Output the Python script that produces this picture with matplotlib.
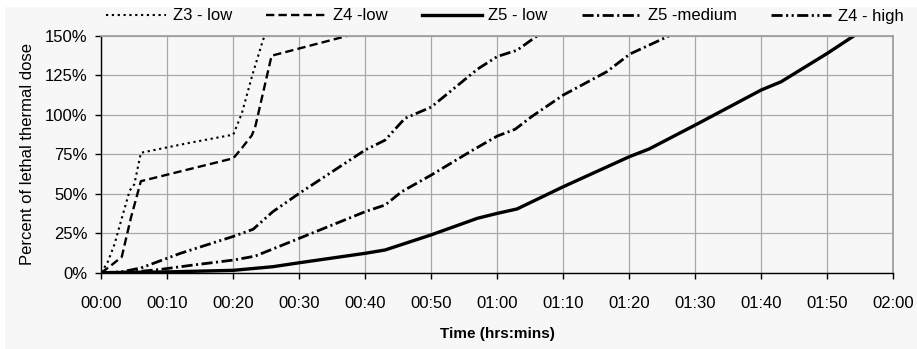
import matplotlib
matplotlib.use("Agg")
import matplotlib.pyplot as plt
from matplotlib.patches import Rectangle

# time in minutes, value in percent of lethal thermal dose
z3_low_t = [0, 1, 2, 3, 4.3, 5, 6, 13, 20, 21.3, 22.8, 24.5, 25]
z3_low_v = [0, 7, 18, 33, 52, 56, 76, 82, 87.5, 101, 124, 147.5, 152]

z4_low_t = [0, 1.3, 3.1, 4.5, 6, 20, 21.3, 22.8, 23.3, 25.8, 37.2]
z4_low_v = [0, 4, 10, 35, 58, 72.5, 79, 87, 92, 137.5, 150]

z5_low_t = [0, 10, 20, 26, 30, 40, 43, 50, 57, 60, 63, 70, 80, 83, 90, 100, 103, 110, 114]
z5_low_v = [0, 0.5, 1.5, 3.8, 6.3, 12.3, 14.4, 24, 34.5, 37.6, 40.4, 54.5, 73.5, 78.4, 93.6, 115.8, 121, 139, 150]

z5_med_t = [0, 5, 9, 14, 20, 23.3, 30, 40, 43, 45.5, 50, 56, 60, 62.7, 65.2, 70, 76.6, 80.1, 86]
z5_med_v = [0, 0.5, 2.1, 4.9, 8, 10.5, 21.8, 38.7, 42.9, 51.3, 61.9, 77, 86.6, 90.9, 98.9, 112.6, 127.4, 138.6, 150]

z4_high_t = [0, 3, 6, 12, 20, 23, 26, 30, 40, 43, 46, 50, 57, 60, 63, 66]
z4_high_v = [0, 0.5, 3, 12.3, 23, 27.5, 38.7, 50.3, 77.8, 84, 97.8, 105, 129, 137, 141, 150]

series_names = ["Z3 - low", "Z4 -low", "Z5 - low", "Z5 -medium", "Z4 - high"]

x_ticks = list(range(0, 121, 10))
x_tick_labels = ["00:00", "00:10", "00:20", "00:30", "00:40", "00:50", "01:00",
                 "01:10", "01:20", "01:30", "01:40", "01:50", "02:00"]
y_ticks = [0, 25, 50, 75, 100, 125, 150]
y_tick_labels = ["0%", "25%", "50%", "75%", "100%", "125%", "150%"]

plt.rcParams["font.family"] = ["Liberation Sans", "DejaVu Sans"]
plt.rcParams["lines.scale_dashes"] = False

bg = "#f7f7f7"
fig = plt.figure(figsize=(9.17, 3.49), dpi=100, facecolor="white")
fig.patches.append(Rectangle((5 / 917, 0), 1, (349 - 7) / 349, transform=fig.transFigure,
                             facecolor=bg, edgecolor="none", zorder=-10))

ax = fig.add_axes([101.3 / 917, (349 - 272.7) / 349, 792 / 917, 236.7 / 349])
ax.set_facecolor(bg)

styles = [
    dict(lw=1.5, ls=(0, (1.6, 2.6))),
    dict(lw=1.7, ls=(0, (6, 3))),
    dict(lw=2.4, ls="-"),
    dict(lw=2.0, ls=(0, (8, 2.5, 1.5, 2.5))),
    dict(lw=2.0, ls=(0, (8, 2.5, 1.5, 2.5, 1.5, 2.5))),
]
data = [(z3_low_t, z3_low_v), (z4_low_t, z4_low_v), (z5_low_t, z5_low_v),
        (z5_med_t, z5_med_v), (z4_high_t, z4_high_v)]

for (t, v), name, st in zip(data, series_names, styles):
    ax.plot(t, v, color="black", label=name, solid_joinstyle="miter", **st)

ax.set_xlim(0, 120)
ax.set_ylim(0, 150)
ax.set_xticks(x_ticks)
ax.set_xticklabels(x_tick_labels, fontsize=12)
ax.set_yticks(y_ticks)
ax.set_yticklabels(y_tick_labels, fontsize=12)
ax.grid(True, color="#a8a8a8", lw=0.9)
ax.set_axisbelow(True)

for s in ["top", "right"]:
    ax.spines[s].set_color("#a0a0a0")
    ax.spines[s].set_linewidth(1.3)
for s in ["left", "bottom"]:
    ax.spines[s].set_color("black")
    ax.spines[s].set_linewidth(1.0)
ax.tick_params(axis="both", direction="out", length=4, width=1, color="black", pad=6)
ax.tick_params(axis="x", pad=13)

ax.set_ylabel("Percent of lethal thermal dose", fontsize=12, labelpad=7)
ax.set_xlabel("Time (hrs:mins)", fontsize=11, fontweight="bold", labelpad=11)

leg = fig.legend(loc="center left", bbox_to_anchor=(106 / 917, (349 - 16) / 349), ncol=5,
                 frameon=False, fontsize=12, handlelength=3.6, columnspacing=2.05,
                 handletextpad=0.4, borderaxespad=0, borderpad=0)

fig.savefig("out.png", dpi=100, facecolor=fig.get_facecolor())
